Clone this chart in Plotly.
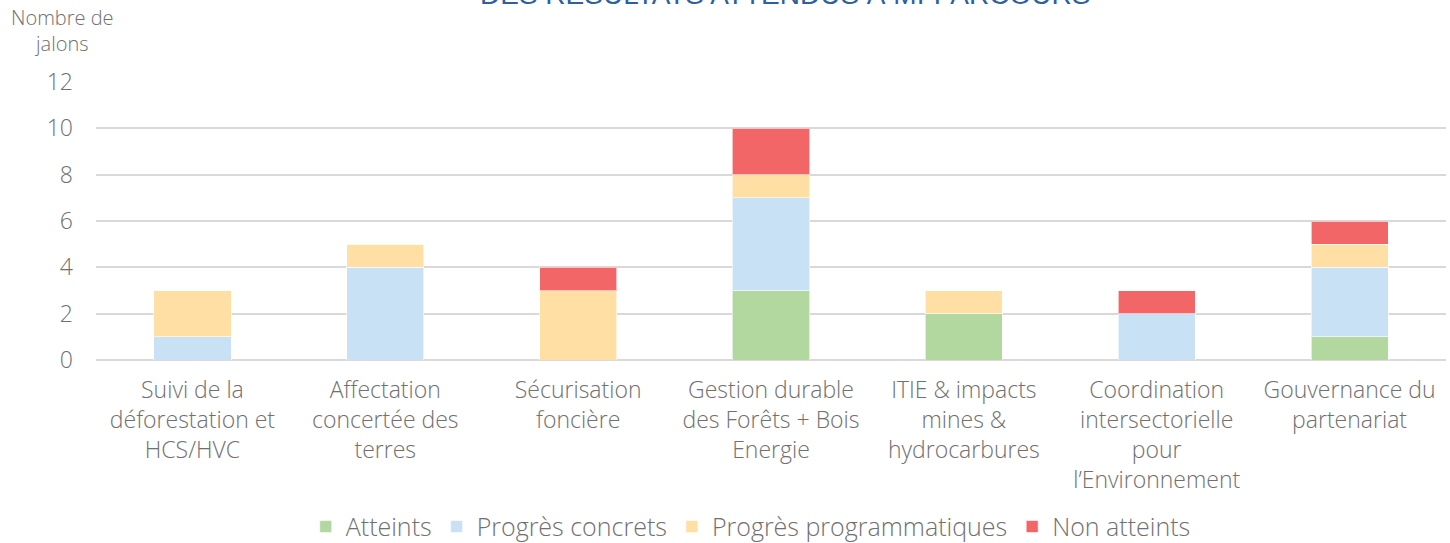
import plotly.graph_objects as go

categories = [
    "Suivi de la<br>déforestation et<br>HCS/HVC",
    "Affectation<br>concertée des<br>terres",
    "Sécurisation<br>foncière",
    "Gestion durable<br>des Forêts + Bois<br>Energie",
    "ITIE & impacts<br>mines &<br>hydrocarbures",
    "Coordination<br>intersectorielle<br>pour<br>l’Environnement",
    "Gouvernance du<br>partenariat",
]
atteints = [0, 0, 0, 3, 2, 0, 1]
progres_concrets = [1, 4, 0, 4, 0, 2, 3]
progres_programmatiques = [2, 1, 3, 1, 1, 0, 1]
non_atteints = [0, 0, 1, 2, 0, 1, 1]

series = [
    ("Atteints", atteints, "#B2D8A0"),
    ("Progrès concrets", progres_concrets, "#C9E1F4"),
    ("Progrès programmatiques", progres_programmatiques, "#FFDFA3"),
    ("Non atteints", non_atteints, "#F26668"),
]

FONT = "Open Sans"
GREY = "#707070"

fig = go.Figure()
for name, vals, color in series:
    fig.add_trace(go.Bar(
        x=categories, y=vals, name=name,
        marker=dict(color=color, line=dict(color="rgba(255,255,255,0.6)", width=1)),
    ))

fig.update_layout(
    barmode="stack",
    bargap=0.6,
    width=1450, height=543,
    margin=dict(l=96, r=4, t=82, b=183, autoexpand=False),
    plot_bgcolor="white", paper_bgcolor="white",
    font=dict(family=FONT, color=GREY, size=23, weight=300),
    showlegend=True,
    legend=dict(orientation="h", x=0.485, xanchor="center", y=-0.6, yanchor="middle",
                font=dict(size=25, color=GREY, weight=300), traceorder="normal",
                itemwidth=30, tracegroupgap=0),
    xaxis=dict(showgrid=False, showline=False, ticks="",
               tickfont=dict(size=23, color=GREY, weight=300),
               ticklabelstandoff=14),
    yaxis=dict(range=[0, 12], dtick=2, showgrid=True, gridcolor="#d9d9d9", gridwidth=1.5,
               zeroline=True, zerolinecolor="#d9d9d9", zerolinewidth=1.5,
               tickfont=dict(size=23, color=GREY, weight=300), ticklabelstandoff=22, ticks=""),
)

fig.add_annotation(text="Nombre de<br>jalons", xref="paper", yref="paper",
                   x=-0.025, y=1.0, xanchor="center", yanchor="bottom", yshift=23,
                   showarrow=False, font=dict(size=20, color=GREY, family=FONT, weight=300))

fig.add_annotation(text="DES RÉSULTATS ATTENDUS À MI-PARCOURS", xref="paper", yref="paper",
                   x=0.51, y=1.0, xanchor="center", yanchor="bottom", yshift=70,
                   showarrow=False, font=dict(size=28, color="#2E5F9E", family="Liberation Sans"))

fig.write_html("out.html", config={"displayModeBar": False},
               post_script="document.body.style.margin='0';")
